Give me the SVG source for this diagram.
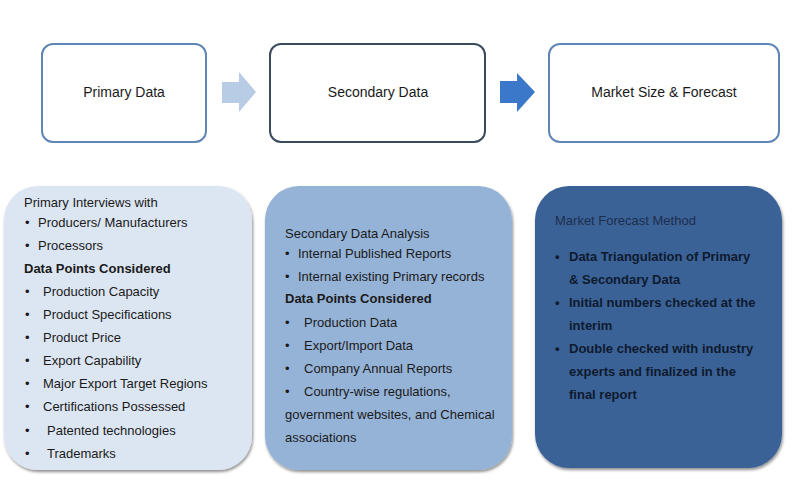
<svg xmlns="http://www.w3.org/2000/svg" width="800" height="485" viewBox="0 0 800 485">
<defs>
<filter id="sh" x="-10%" y="-10%" width="120%" height="120%">
<feGaussianBlur in="SourceAlpha" stdDeviation="1.5"/>
<feOffset dx="1" dy="2" result="b"/>
<feComponentTransfer><feFuncA type="linear" slope="0.45"/></feComponentTransfer>
<feMerge><feMergeNode/><feMergeNode in="SourceGraphic"/></feMerge>
</filter>
</defs>
<style>
text{font-family:"Liberation Sans",Arial,sans-serif;font-size:13px;fill:#1a1a1a}
.t{font-size:14px;text-anchor:middle}
.b{font-weight:bold}
.top{fill:#fff;stroke-width:2}
.c text{fill:#0e1a2e}
</style>
<rect width="800" height="485" fill="#fff"/>
<g id="primary-data">
<rect class="top" x="42" y="44" width="164" height="98" rx="11" stroke="#5f86b4"/>
<text class="t" x="124" y="97">Primary Data</text>
</g>
<g id="secondary-data">
<rect class="top" x="270" y="44" width="215" height="98" rx="11" stroke="#3b4b5e"/>
<text class="t" x="378" y="97">Secondary Data</text>
</g>
<g id="market-size">
<rect class="top" x="549" y="44" width="230" height="98" rx="11" stroke="#5f86b4"/>
<text class="t" x="664" y="97">Market Size &amp; Forecast</text>
</g>
<g id="connectors">
<polygon points="222,82 239,82 239,72 256,92 239,112 239,103 222,103" fill="#b8cce6"/>
<polygon points="500,81 517,81 517,73 535,92 517,112 517,103 500,103" fill="#3b78c9"/>
</g>
<g id="primary-details">
<rect x="4" y="186" width="248" height="284" rx="34" fill="#dce6f2" filter="url(#sh)"/>
<text x="24" y="207">Primary Interviews  with</text>
<text y="227"><tspan x="25">•</tspan><tspan x="38">Producers/ Manufacturers</tspan></text>
<text y="250"><tspan x="25">•</tspan><tspan x="38">Processors</tspan></text>
<text x="24" y="273" class="b">Data Points Considered</text>
<text y="296"><tspan x="25">•</tspan><tspan x="43">Production Capacity</tspan></text>
<text y="319"><tspan x="25">•</tspan><tspan x="43">Product Specifications</tspan></text>
<text y="342"><tspan x="25">•</tspan><tspan x="43">Product Price</tspan></text>
<text y="365"><tspan x="25">•</tspan><tspan x="43">Export Capability</tspan></text>
<text y="388"><tspan x="25">•</tspan><tspan x="43">Major Export Target Regions</tspan></text>
<text y="411"><tspan x="25">•</tspan><tspan x="43">Certifications Possessed</tspan></text>
<text y="435"><tspan x="25">•</tspan><tspan x="47">Patented technologies</tspan></text>
<text y="458"><tspan x="25">•</tspan><tspan x="47">Trademarks</tspan></text>
</g>
<g id="secondary-details">
<rect x="265" y="186" width="247" height="284" rx="34" fill="#95b3d7" filter="url(#sh)"/>
<text x="285" y="238">Secondary Data Analysis</text>
<text y="258"><tspan x="285">•</tspan><tspan x="298">Internal  Published Reports</tspan></text>
<text y="281"><tspan x="285">•</tspan><tspan x="298">Internal  existing Primary records</tspan></text>
<text x="285" y="303" class="b">Data Points Considered</text>
<text y="327"><tspan x="285">•</tspan><tspan x="304">Production Data</tspan></text>
<text y="350"><tspan x="285">•</tspan><tspan x="304">Export/Import  Data</tspan></text>
<text y="373"><tspan x="285">•</tspan><tspan x="304">Company Annual Reports</tspan></text>
<text y="396"><tspan x="285">•</tspan><tspan x="304">Country-wise regulations,</tspan></text>
<text x="285" y="419">government  websites, and Chemical</text>
<text x="285" y="442">associations</text>
</g>
<g id="forecast-details" class="c">
<rect x="535" y="186" width="247" height="282" rx="34" fill="#3a6296" filter="url(#sh)"/>
<text x="555" y="225" style="fill:#1c2e4e">Market Forecast Method</text>
<text y="261" class="b"><tspan x="555">•</tspan><tspan x="569">Data Triangulation of  Primary</tspan></text>
<text x="569" y="284" class="b">&amp; Secondary Data</text>
<text y="307" class="b"><tspan x="555">•</tspan><tspan x="569">Initial  numbers checked at the</tspan></text>
<text x="569" y="330" class="b">interim</text>
<text y="353" class="b"><tspan x="555">•</tspan><tspan x="569">Double checked with industry</tspan></text>
<text x="569" y="376" class="b">experts and finalized in the</text>
<text x="569" y="399" class="b">final report</text>
</g>
</svg>
